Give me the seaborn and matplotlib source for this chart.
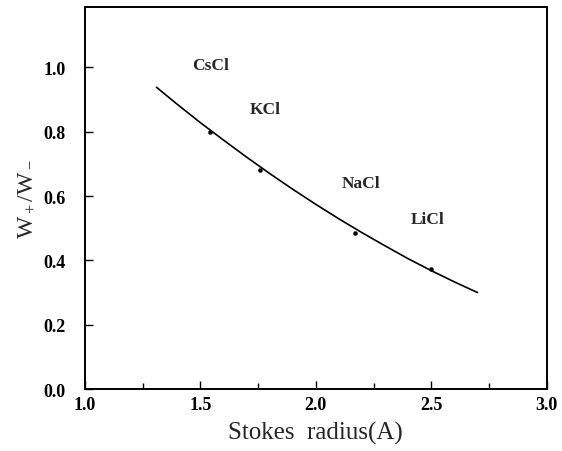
import matplotlib
matplotlib.use("Agg")
import matplotlib.pyplot as plt
import seaborn as sns
import pandas as pd
from matplotlib.ticker import MultipleLocator

sns.set_theme(style="white")
plt.rcParams['font.family'] = ['Liberation Serif', 'DejaVu Serif']
plt.rcParams['mathtext.fontset'] = 'custom'
plt.rcParams['mathtext.rm'] = 'Liberation Serif'
plt.rcParams['mathtext.it'] = 'Liberation Serif'

# measured points
salts = ["CsCl", "KCl", "NaCl", "LiCl"]
point_x = [1.54, 1.76, 2.17, 2.50]
point_y = [0.800, 0.682, 0.484, 0.374]

# fitted curve
curve_x = [1.31, 1.40, 1.50, 1.60, 1.70, 1.80, 1.90, 2.00, 2.10, 2.20, 2.30, 2.40, 2.50, 2.60, 2.70]
curve_y = [0.938, 0.885, 0.828, 0.774, 0.721, 0.670, 0.621, 0.574, 0.529, 0.486, 0.445, 0.405, 0.368, 0.333, 0.300]

# label positions
label_x = [1.545, 1.78, 2.195, 2.483]
label_y = [1.008, 0.869, 0.641, 0.530]

fig = plt.figure(figsize=(5.62, 4.52), dpi=100)
ax = fig.add_axes([0.151, 0.137, 0.822, 0.845])

curve = pd.DataFrame({"x": curve_x, "y": curve_y})
pts = pd.DataFrame({"x": point_x, "y": point_y, "salt": salts})

sns.lineplot(data=curve, x="x", y="y", ax=ax, color="black", linewidth=1.2)
sns.scatterplot(data=pts, x="x", y="y", ax=ax, color="black", s=9, edgecolor="black", zorder=3)

for s, lx, ly in zip(salts, label_x, label_y):
    ax.text(lx, ly, s, ha="center", va="center", fontsize=12.5, fontweight="bold")

ax.set_xlim(1.0, 3.0)
ax.set_ylim(0.0, 1.187)
ax.xaxis.set_minor_locator(MultipleLocator(0.25))
ax.set_yticks([0.0, 0.2, 0.4, 0.6, 0.8, 1.0])
ax.set_xticks([1.0, 1.5, 2.0, 2.5, 3.0])
ax.set_xticklabels(["1.0", "1.5", "2.0", "2.5", "3.0"])
ax.set_yticklabels(["0.0", "0.2", "0.4", "0.6", "0.8", "1.0"])
ax.tick_params(axis="both", which="both", direction="in", top=False, right=False,
               left=True, bottom=True, labelsize=13, colors="black")
ax.tick_params(axis="both", which="major", length=6, width=1)
ax.tick_params(axis="x", which="minor", length=4, width=1)
ax.tick_params(axis="x", which="major", pad=5)
ax.tick_params(axis="y", which="major", pad=14)
for lab in ax.get_xticklabels() + ax.get_yticklabels():
    lab.set_fontweight("bold")

for sp in ax.spines.values():
    sp.set_color("black")
    sp.set_linewidth(1.4)

ax.set_xlabel("Stokes  radius(A)", fontsize=18, labelpad=6)
ax.set_ylabel(r"$\mathrm{W_+/W_-}$", fontsize=17, labelpad=4)
ax.grid(False)

fig.savefig("out.png", dpi=100)
